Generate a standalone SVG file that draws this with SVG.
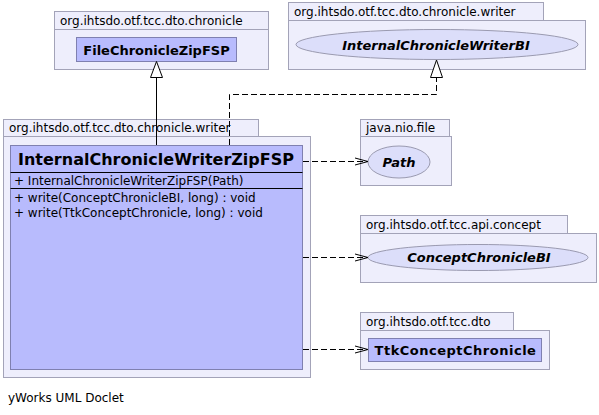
<svg xmlns="http://www.w3.org/2000/svg" width="599" height="415" viewBox="0 0 599 415">
<defs>
<style>
.pkg{fill:#eeeefc;stroke:#a3a3b8;stroke-width:1}
.cls{fill:#b8bbfd;stroke:#7f80b0;stroke-width:1}
.ell{fill:#dcdefa;stroke:#9a9ab0;stroke-width:1}
.pt{font-family:"DejaVu Sans",sans-serif;font-size:12px;fill:#000}
.cn{font-family:"DejaVu Sans",sans-serif;font-size:13px;font-weight:bold;fill:#000}
.ci{font-family:"DejaVu Sans",sans-serif;font-size:13px;font-weight:bold;font-style:italic;fill:#000}
.mt{font-family:"DejaVu Sans",sans-serif;font-size:12px;fill:#000}
.dash{fill:none;stroke:#000;stroke-width:1;stroke-dasharray:6,3}
.solid{fill:none;stroke:#000;stroke-width:1}
.tri{fill:#fff;stroke:#000;stroke-width:1}
.open{fill:none;stroke:#000;stroke-width:1}
</style>
</defs>
<rect width="599" height="415" fill="#fff"/>

<g id="pkg-dto-chronicle">
<rect class="pkg" x="54.5" y="11.5" width="214" height="18"/>
<rect class="pkg" x="54.5" y="29.5" width="214" height="40"/>
<text class="pt" x="60" y="25">org.ihtsdo.otf.tcc.dto.chronicle</text>
</g>
<g id="FileChronicleZipFSP">
<rect class="cls" x="76.5" y="37.5" width="160" height="24"/>
<text class="cn" x="156.5" y="54.5" text-anchor="middle">FileChronicleZipFSP</text>
</g>

<g id="pkg-writer-top">
<rect class="pkg" x="288.5" y="2.5" width="255" height="18"/>
<rect class="pkg" x="288.5" y="20.5" width="297" height="49"/>
<text class="pt" x="294" y="16">org.ihtsdo.otf.tcc.dto.chronicle.writer</text>
</g>
<g id="InternalChronicleWriterBI">
<ellipse class="ell" cx="437" cy="44.5" rx="141" ry="15"/>
<text class="ci" x="436" y="49.5" text-anchor="middle">InternalChronicleWriterBI</text>
</g>

<g id="pkg-writer-main">
<rect class="pkg" x="3.5" y="119.5" width="255" height="17"/>
<rect class="pkg" x="3.5" y="136.5" width="307" height="241"/>
<text class="pt" x="9" y="132">org.ihtsdo.otf.tcc.dto.chronicle.writer</text>
</g>
<g id="InternalChronicleWriterZipFSP">
<rect class="cls" x="10.5" y="145.5" width="292" height="224"/>
<text x="156" y="165" text-anchor="middle" style="font-family:'DejaVu Sans',sans-serif;font-size:16px;font-weight:bold">InternalChronicleWriterZipFSP</text>
<line class="solid" x1="10.5" y1="172.5" x2="302.5" y2="172.5"/>
<text class="mt" x="14" y="185">+ InternalChronicleWriterZipFSP(Path)</text>
<line class="solid" x1="10.5" y1="188.5" x2="302.5" y2="188.5"/>
<text class="mt" x="14" y="202">+ write(ConceptChronicleBI, long) : void</text>
<text class="mt" x="14" y="217">+ write(TtkConceptChronicle, long) : void</text>
</g>

<g id="pkg-java-nio-file">
<rect class="pkg" x="360.5" y="119.5" width="89" height="17"/>
<rect class="pkg" x="360.5" y="136.5" width="91" height="49"/>
<text class="pt" x="366" y="132">java.nio.file</text>
</g>
<g id="Path">
<ellipse class="ell" cx="399" cy="162" rx="31" ry="16"/>
<text class="ci" x="399" y="166.5" text-anchor="middle">Path</text>
</g>

<g id="pkg-api-concept">
<rect class="pkg" x="360.5" y="215.5" width="207" height="18"/>
<rect class="pkg" x="360.5" y="233.5" width="236" height="49"/>
<text class="pt" x="366" y="229">org.ihtsdo.otf.tcc.api.concept</text>
</g>
<g id="ConceptChronicleBI">
<ellipse class="ell" cx="478" cy="257.5" rx="110" ry="13"/>
<text class="ci" x="479" y="262" text-anchor="middle">ConceptChronicleBI</text>
</g>

<g id="pkg-dto">
<rect class="pkg" x="360.5" y="312.5" width="153" height="18"/>
<rect class="pkg" x="360.5" y="330.5" width="189" height="39"/>
<text class="pt" x="366" y="326">org.ihtsdo.otf.tcc.dto</text>
</g>
<g id="TtkConceptChronicle">
<rect class="cls" x="368.5" y="338.5" width="173" height="23"/>
<text class="cn" x="455.5" y="355" text-anchor="middle" letter-spacing="0.5">TtkConceptChronicle</text>
</g>

<g id="connectors">
<path class="solid" d="M156.5,145 L156.5,77"/>
<path class="tri" d="M156.5,61.5 L150.5,77.5 L162.5,77.5 Z"/>
<path class="dash" d="M229.5,145 L229.5,94.5 L436.5,94.5 L436.5,77.5"/>
<path class="tri" d="M436.5,60 L430.5,77.5 L442.5,77.5 Z"/>
<path class="dash" d="M303,161.5 L367,161.5"/>
<path class="open" d="M355,158 L368,161.5 L355,165"/>
<path class="dash" d="M303,257.5 L367,257.5"/>
<path class="open" d="M355,254 L368,257.5 L355,261"/>
<path class="dash" d="M303,349.5 L367,349.5"/>
<path class="open" d="M355,346 L368,349.5 L355,353"/>
</g>

<text class="pt" x="8" y="402">yWorks UML Doclet</text>
</svg>
